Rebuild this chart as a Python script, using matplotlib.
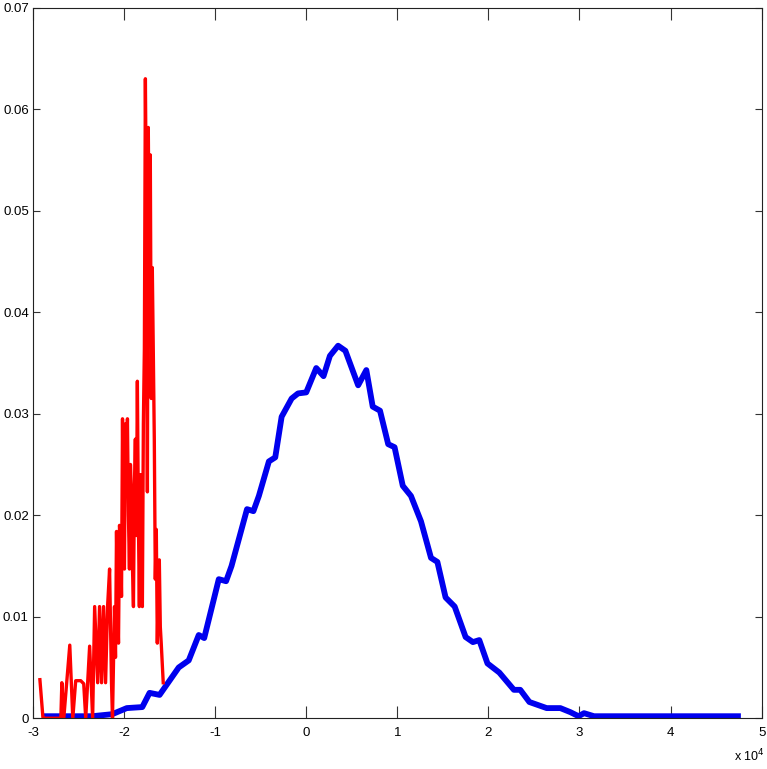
import matplotlib.pyplot as plt
import numpy as np

# blue curve (x in units of 1e4)
BLUE_X = [-2.87, -2.35, -2.13, -1.97, -1.80, -1.72, -1.61, -1.47, -1.40, -1.29,
          -1.18, -1.12, -0.96, -0.88, -0.82, -0.65, -0.58, -0.52, -0.41, -0.34,
          -0.27, -0.16, -0.09, 0.00, 0.11, 0.19, 0.26, 0.35, 0.43, 0.57,
          0.66, 0.73, 0.81, 0.90, 0.97, 1.06, 1.15, 1.26, 1.37, 1.44,
          1.53, 1.63, 1.75, 1.83, 1.90, 1.99, 2.12, 2.28, 2.35, 2.45,
          2.64, 2.79, 2.90, 2.99, 3.05, 3.16, 3.55, 4.74]
BLUE_Y = [0.0002, 0.0002, 0.0004, 0.0010, 0.0011, 0.0025, 0.0023, 0.0041, 0.0050, 0.0057,
          0.0082, 0.0079, 0.0137, 0.0135, 0.0150, 0.0206, 0.0204, 0.0219, 0.0253, 0.0257,
          0.0297, 0.0315, 0.0320, 0.0321, 0.0345, 0.0337, 0.0357, 0.0367, 0.0362, 0.0328,
          0.0343, 0.0307, 0.0303, 0.0270, 0.0267, 0.0229, 0.0219, 0.0194, 0.0158, 0.0154,
          0.0119, 0.0110, 0.0080, 0.0075, 0.0077, 0.0054, 0.0045, 0.0028, 0.0028, 0.0016,
          0.0010, 0.0010, 0.0006, 0.0002, 0.0005, 0.0002, 0.0002, 0.0002]

# red noisy curve
RED_X = [-2.924, -2.891, -2.869, -2.694, -2.683, -2.662, -2.596, -2.563, -2.531, -2.476,
         -2.443, -2.421, -2.378, -2.345, -2.323, -2.290, -2.269, -2.247, -2.225, -2.203,
         -2.181, -2.159, -2.138, -2.127, -2.105, -2.094, -2.083, -2.072, -2.061, -2.050,
         -2.039, -2.028, -2.017, -2.006, -1.996, -1.985, -1.974, -1.963, -1.952, -1.941,
         -1.930, -1.919, -1.908, -1.897, -1.886, -1.876, -1.865, -1.854, -1.843, -1.832,
         -1.821, -1.810, -1.799, -1.788, -1.777, -1.766, -1.755, -1.744, -1.734, -1.723,
         -1.712, -1.701, -1.690, -1.679, -1.668, -1.657, -1.646, -1.635, -1.624, -1.613,
         -1.602, -1.592, -1.570]
RED_Y = [0.0038, 0.0001, 0.0, 0.0, 0.0035, 0.0, 0.0072, 0.0, 0.0037, 0.0037,
         0.0034, 0.0, 0.0071, 0.0, 0.0110, 0.0035, 0.0110, 0.0035, 0.0110, 0.0035,
         0.0110, 0.0147, 0.0035, 0.0, 0.0110, 0.0060, 0.0184, 0.0110, 0.0074, 0.0190,
         0.0176, 0.0120, 0.0295, 0.0160, 0.0147, 0.0290, 0.0248, 0.0295, 0.0200, 0.0147,
         0.0250, 0.0221, 0.0150, 0.0110, 0.0230, 0.0275, 0.0180, 0.0332, 0.0200, 0.0110,
         0.0240, 0.0216, 0.0110, 0.0290, 0.0364, 0.0630, 0.0500, 0.0223, 0.0582, 0.0444,
         0.0555, 0.0315, 0.0444, 0.0361, 0.0275, 0.0137, 0.0186, 0.0074, 0.0130, 0.0156,
         0.0090, 0.0074, 0.0035]

XTICKS = [-3, -2, -1, 0, 1, 2, 3, 4, 5]
YTICKS = [0, 0.01, 0.02, 0.03, 0.04, 0.05, 0.06, 0.07]
YTICK_LABELS = ["0", "0.01", "0.02", "0.03", "0.04", "0.05", "0.06", "0.07"]

plt.rcParams["font.family"] = ["Liberation Sans Narrow", "Liberation Sans", "DejaVu Sans"]

fig = plt.figure(figsize=(7.67, 7.69), dpi=100)
ax = fig.add_axes([0.043, 0.066, 0.950, 0.924])

ax.plot(BLUE_X, BLUE_Y, color="#0000ee", linewidth=4.2, solid_joinstyle="round")
ax.plot(RED_X, RED_Y, color="#ff0000", linewidth=2.4)

ax.set_xlim(-3, 5)
ax.set_ylim(0, 0.07)
ax.set_xticks(XTICKS)
ax.set_xticklabels([str(t) for t in XTICKS])
ax.set_yticks(YTICKS)
ax.set_yticklabels(YTICK_LABELS)
ax.tick_params(axis="both", direction="in", top=True, right=True, labelsize=9.5,
               width=0.8, color="#333333")
ax.tick_params(axis="x", length=8.5, pad=6)
ax.tick_params(axis="y", length=5, pad=3)
for spine in ax.spines.values():
    spine.set_linewidth(0.8)
    spine.set_color("#222222")

fig.text(0.997, 0.006, "x 10$^4$", ha="right", va="bottom", fontsize=9)

fig.savefig("out.png", dpi=100)
